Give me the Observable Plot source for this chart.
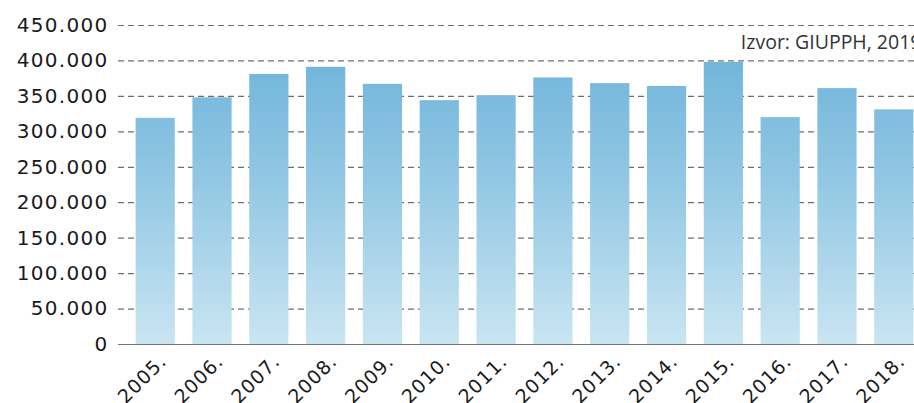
<!DOCTYPE html>
<html>
<head>
<meta charset="utf-8">
<script src="https://cdn.jsdelivr.net/npm/d3@7"></script>
<script src="https://cdn.jsdelivr.net/npm/@observablehq/plot@0.6"></script>
<style>
  html, body { margin: 0; padding: 0; background: #fff; overflow: hidden; }
  #chart svg { overflow: hidden; display: block; }
</style>
</head>
<body>
<div id="chart"></div>
<script>
const years = ["2005.", "2006.", "2007.", "2008.", "2009.", "2010.", "2011.", "2012.", "2013.", "2014.", "2015.", "2016.", "2017.", "2018."];
const values = [319000, 348000, 381000, 391000, 367000, 344000, 351000, 376000, 368000, 364000, 398000, 320000, 361000, 331000];
const yTicks = [0, 50000, 100000, 150000, 200000, 250000, 300000, 350000, 400000, 450000];
const source = "Izvor: GIUPPH, 2019";

const fmt = d3.formatLocale({decimal: ",", thousands: ".", grouping: [3], currency: ["", ""]}).format(",d");
const data = years.map((year, i) => ({year, value: values[i]}));

function gradientDefs(index, scales) {
  const g = d3.create("svg:g");
  const grad = g.append("defs").append("linearGradient")
    .attr("id", "barGrad")
    .attr("gradientUnits", "userSpaceOnUse")
    .attr("x1", 0).attr("x2", 0)
    .attr("y1", scales.y(450000)).attr("y2", scales.y(0));
  grad.append("stop").attr("offset", "0%").attr("stop-color", "#68b0d8");
  grad.append("stop").attr("offset", "50%").attr("stop-color", "#93c8e4");
  grad.append("stop").attr("offset", "100%").attr("stop-color", "#c9e5f2");
  return g.node();
}

const chart = Plot.plot({
  width: 914,
  height: 403,
  marginLeft: 118,
  marginRight: -17,
  marginTop: 25,
  marginBottom: 59,
  style: {fontFamily: "DejaVu Sans", color: "#1a1a1a", background: "#fff"},
  x: {domain: years, paddingInner: 0.31, paddingOuter: 0.31, round: false, axis: null},
  y: {domain: [0, 450000], axis: null},
  marks: [
    gradientDefs,
    Plot.ruleY(yTicks.filter(d => d > 0), {stroke: "#555", strokeOpacity: 0.85, strokeWidth: 1.2, strokeDasharray: "6,4"}),
    Plot.barY(data, {x: "year", y: "value", fill: "url(#barGrad)"}),
    Plot.ruleY([0], {stroke: "#777", strokeWidth: 1}),
    Plot.text(yTicks, {y: d => d, text: d => fmt(d), frameAnchor: "left", textAnchor: "end", dx: -10, fontSize: 20, fill: "#1a1a1a"}),
    Plot.text(years, {x: d => d, text: d => d, frameAnchor: "bottom", rotate: -45, textAnchor: "end", lineAnchor: "bottom", dx: 12, dy: 18, fontSize: 19, fill: "#1a1a1a"}),
    Plot.text([source], {x: () => "2015.", text: d => d, frameAnchor: "top", textAnchor: "start", lineAnchor: "bottom", dx: 17, dy: 23, fontSize: 19.5, fill: "#333", fontFamily: "Open Sans"})
  ]
});

const texts = chart.querySelectorAll('g[aria-label="text"]');
if (texts[0]) texts[0].setAttribute("letter-spacing", "1.3");
if (texts[1]) texts[1].setAttribute("letter-spacing", "1");
document.getElementById("chart").appendChild(chart);
</script>
</body>
</html>
